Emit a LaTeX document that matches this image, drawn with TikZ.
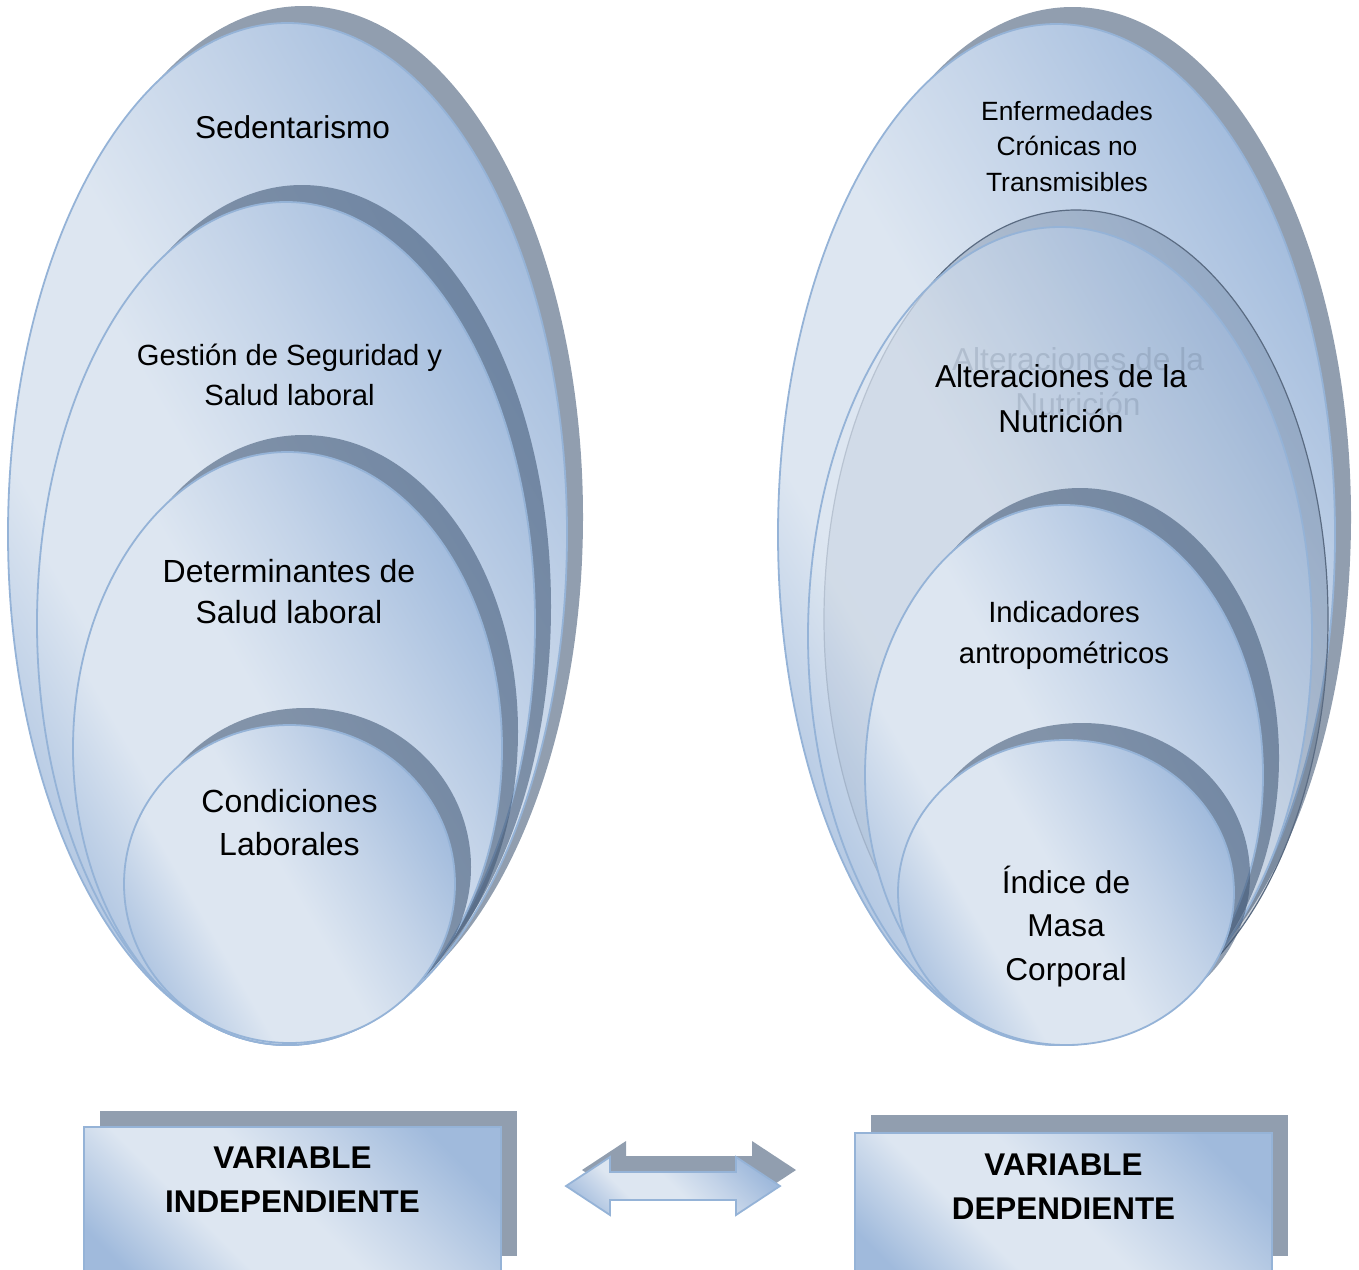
\documentclass[tikz,border=0pt]{standalone}
\usepackage{fontspec}
\setmainfont{Liberation Sans}
\definecolor{fillblue}{HTML}{A0BADC}
\definecolor{fillmid}{HTML}{C3D3E8}
\definecolor{filllight}{HTML}{DDE6F1}
\definecolor{edgeblue}{HTML}{95B3D7}
\definecolor{shadowc}{HTML}{3E5573}
\definecolor{ghostc}{HTML}{5B6B80}
\definecolor{ghostline}{HTML}{5A6B82}
\pgfdeclareverticalshading{panelfill}{100bp}{color(0bp)=(fillblue); color(20bp)=(fillblue); color(36bp)=(filllight); color(50bp)=(filllight); color(62bp)=(fillmid); color(76bp)=(fillblue); color(100bp)=(fillblue)}
% one stacked oval: offset shadow, then the shaded face
\newcommand\ovalpair[4]{%
  \fill[ovalshadow] (#1+16,#2-17) ellipse [x radius=#3pt, y radius=#4pt];
  \shadedraw[ovalface] (#1,#2) ellipse [x radius=#3pt, y radius=#4pt];}
\begin{document}
\begin{tikzpicture}[x=1pt,y=-1pt,
  ovalshadow/.style={fill=shadowc, fill opacity=.57},
  ovalface/.style={shading=panelfill, shading angle=-60, draw=edgeblue, line width=1.8pt},
  boxface/.style={ovalface, shading angle=-45},
  ovaltext/.style={font=\fontsize{32}{42}\selectfont, align=center, anchor=base, inner sep=0pt},
  boxtext/.style={font=\fontsize{31.4}{44}\selectfont\bfseries, align=center, anchor=base, inner sep=0pt}]
\useasboundingbox (0,0) rectangle (1359,1269);
\clip (0,0) rectangle (1359,1269);

% left stack: independent variable
\ovalpair{287.5}{534}{279.5}{511}
\ovalpair{286}{623.5}{249}{421.5}
\ovalpair{287.5}{748.5}{214.5}{296.5}
\ovalpair{289.5}{884}{165.5}{159}

% text nodes are anchored at the baseline of their last line
\node[ovaltext, font=\fontsize{31.6}{42}\selectfont] (sed) at (292.5,138) {Sedentarismo};
\node[ovaltext, font=\fontsize{29.2}{40}\selectfont] (gest) at (289.5,405) {Gestión de Seguridad y\\Salud laboral};
\node[ovaltext, font=\fontsize{32}{41}\selectfont] (det) at (289,623) {Determinantes de\\Salud laboral};
\node[ovaltext, font=\fontsize{32}{43}\selectfont] (cond) at (289.5,855) {Condiciones\\Laborales};

% right stack: dependent variable
\ovalpair{1056.5}{534.5}{278.5}{510.5}
% translucent second oval: its shadow copy shows through
\fill[fill=shadowc, fill opacity=.25] (1076,619) ellipse [x radius=252pt, y radius=409pt];
\draw[ghostline, line width=1.2pt] (1076,619) ellipse [x radius=252pt, y radius=409pt];
\node[ovaltext, font=\fontsize{31.7}{45}\selectfont, text=ghostc] (altghost) at (1078,415) {Alteraciones de la\\Nutrición};
\shadedraw[ovalface, fill opacity=.72] (1060,636) ellipse [x radius=252pt, y radius=409pt];
\ovalpair{1064}{775}{199}{270}
\ovalpair{1066}{892.5}{168}{152.5}

\node[ovaltext, font=\fontsize{26.4}{35.5}\selectfont] (enf) at (1067,191) {Enfermedades\\Crónicas no\\Transmisibles};
\node[ovaltext, font=\fontsize{31.7}{45}\selectfont] (alt) at (1061,432) {Alteraciones de la\\Nutrición};
\node[ovaltext, font=\fontsize{29.3}{41}\selectfont] (ind) at (1064,663) {Indicadores\\antropométricos};
\node[ovaltext, font=\fontsize{31.6}{43.5}\selectfont] (imc) at (1066,980) {Índice de\\Masa\\Corporal};

% variable boxes
\fill[ovalshadow] (100,1111) rectangle (517,1256);
\shadedraw[boxface] (84,1127) rectangle (501,1272);
\node[boxtext] (vi) at (292.5,1212) {VARIABLE\\INDEPENDIENTE};

\fill[ovalshadow] (871,1115) rectangle (1288,1256);
\shadedraw[boxface] (855,1133) rectangle (1272,1274);
\node[boxtext] (vd) at (1063.5,1219) {VARIABLE\\DEPENDIENTE};

% double block arrow between the boxes
\fill[ovalshadow] (582,1170) -- (626,1141) -- (626,1156) -- (752,1156) -- (752,1141)
  -- (796,1170) -- (752,1199) -- (752,1184) -- (626,1184) -- (626,1199) -- cycle;
\shadedraw[boxface] (566,1186) -- (610,1157) -- (610,1172) -- (736,1172) -- (736,1157)
  -- (780,1186) -- (736,1215) -- (736,1200) -- (610,1200) -- (610,1215) -- cycle;
\end{tikzpicture}
\end{document}
